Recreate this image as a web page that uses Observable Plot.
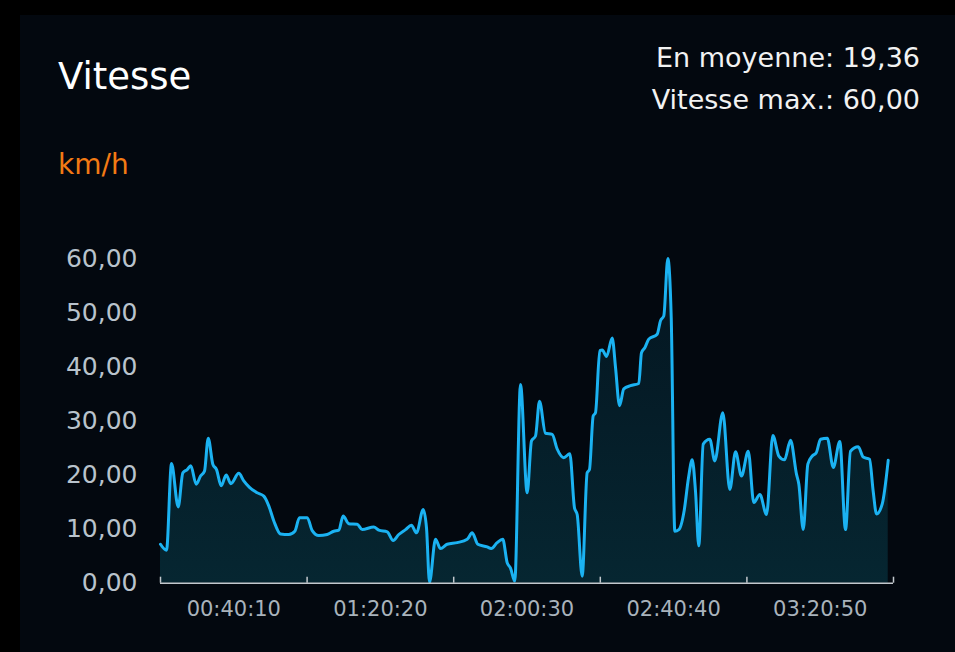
<!DOCTYPE html>
<html>
<head>
<meta charset="utf-8">
<script src="https://cdn.jsdelivr.net/npm/d3@7"></script>
<script src="https://cdn.jsdelivr.net/npm/@observablehq/plot@0.6"></script>
<style>
  html, body { margin: 0; padding: 0; background: #000; width: 955px; height: 652px; overflow: hidden; }
  body { position: relative; font-family: "DejaVu Sans", sans-serif; }
  #panel { position: absolute; left: 20px; top: 15px; right: 0; bottom: 0; background: #03080f; }
  .t { position: absolute; line-height: 1; white-space: nowrap; }
  #title { left: 58px; top: 57.7px; font-size: 37px; color: #ffffff; }
  #avg { right: 35px; top: 44.2px; font-size: 27px; color: #f2f2f2; }
  #max { right: 35px; top: 85.5px; font-size: 27px; color: #f2f2f2; }
  #unit { left: 58px; top: 151px; font-size: 28px; color: #f27a14; }
  #chart { position: absolute; left: 0; top: 220px; }
</style>
</head>
<body>
<div id="panel"></div>
<div class="t" id="title">Vitesse</div>
<div class="t" id="avg">En moyenne: 19,36</div>
<div class="t" id="max">Vitesse max.: 60,00</div>
<div class="t" id="unit">km/h</div>
<div id="chart"></div>
<script>
// elapsed time (seconds) and speed (km/h)
const timeSec = [0, 99, 181, 291, 367, 439, 498, 587, 658, 723, 784, 860, 921, 998, 1080, 1156, 1287, 1369, 1463, 1590, 1698, 1780, 1863, 1973, 2109, 2208, 2285, 2412, 2494, 2602, 2740, 2849, 2931, 3003, 3095, 3234, 3316, 3506, 3589, 3727, 3825, 3917, 4028, 4126, 4208, 4319, 4373, 4422, 4521, 4603, 4713, 4878, 5042, 5124, 5216, 5371, 5436, 5535, 5627, 5699, 5754, 5824, 5918, 6028, 6099, 6165, 6230, 6329, 6439, 6521, 6630, 6729, 6806, 6850, 6932, 7014, 7052, 7113, 7151, 7222, 7262, 7332, 7426, 7480, 7546, 7616, 7726, 7863, 7907, 7962, 8027, 8165, 8220, 8274, 8340, 8396, 8455, 8521, 8610, 8680, 8741, 8795, 8849, 8922, 9030, 9112, 9244, 9359, 9453, 9551, 9662, 9754, 9853, 9963, 10066, 10165, 10258, 10357, 10456, 10494, 10566, 10642, 10715, 10780, 10851, 10961, 11060, 11167, 11261, 11343, 11470, 11552, 11656, 11716, 11771, 11864, 11963];
const speedKmh = [7.2, 6.1, 22.1, 14.1, 20.4, 21.0, 21.7, 18.3, 19.8, 20.7, 26.8, 22.0, 21.0, 18.0, 20.0, 18.4, 20.3, 18.9, 17.7, 16.7, 16.1, 14.3, 11.5, 9.1, 9.0, 9.6, 12.1, 12.1, 9.7, 8.8, 9.0, 9.6, 9.8, 12.4, 11.0, 10.9, 9.9, 10.4, 9.8, 9.5, 7.9, 9.0, 9.9, 10.7, 9.3, 13.6, 10.2, 0.2, 8.1, 6.4, 7.2, 7.5, 8.1, 9.3, 7.2, 6.7, 6.4, 7.5, 8.1, 3.8, 2.8, 0.4, 36.7, 16.7, 26.3, 27.2, 33.6, 27.7, 27.5, 24.8, 23.2, 23.9, 13.9, 12.7, 1.3, 20.4, 21.0, 30.9, 31.5, 43.0, 43.1, 41.9, 45.3, 39.9, 32.8, 35.9, 36.5, 36.9, 42.6, 43.5, 45.1, 46.0, 48.5, 49.4, 60.0, 49.1, 9.6, 9.9, 13.5, 19.5, 22.8, 17.0, 6.9, 25.7, 26.6, 22.6, 31.5, 17.3, 24.3, 19.8, 24.4, 14.9, 16.4, 12.7, 27.3, 23.5, 22.8, 26.4, 20.1, 18.3, 9.9, 22.0, 23.5, 24.1, 26.6, 26.8, 21.4, 26.2, 9.9, 24.4, 25.2, 23.3, 22.9, 17.0, 12.8, 14.6, 22.7];

const yTicks = [0, 10, 20, 30, 40, 50, 60];
const xBoundsSec = [0, 2410, 4820, 7230, 9640, 12050];
const xTickLabels = ["00:40:10", "01:20:20", "02:00:30", "02:40:40", "03:20:50"];

const data = timeSec.map((t, i) => ({t, v: speedKmh[i]}));
const xMid = xBoundsSec.slice(1).map((b, i) => (b + xBoundsSec[i]) / 2);
const labelMap = new Map(xMid.map((m, i) => [m, xTickLabels[i]]));
const fmt = d => d.toFixed(2).replace(".", ",");

const chart = Plot.plot({
  width: 955,
  height: 432,
  marginLeft: 160,
  marginRight: 62,
  marginTop: 38,
  marginBottom: 69.3,
  style: {background: "transparent", fontFamily: "DejaVu Sans", overflow: "visible"},
  x: {domain: [0, 12050]},
  y: {domain: [0, 60]},
  marks: [
    Plot.areaY(data, {x: "t", y: "v", curve: "monotone-x", fill: "url(#speedFill)"}),
    Plot.lineY(data, {x: "t", y: "v", curve: "monotone-x", stroke: "#1bb2f2", strokeWidth: 3}),
    Plot.ruleY([0], {stroke: "#c3c8cd", strokeWidth: 1.5}),
    Plot.axisX({ticks: xBoundsSec, tickSize: -6, stroke: "#c3c8cd", strokeWidth: 1.5, fill: "none", label: null}),
    Plot.axisX({ticks: xMid, tickSize: 0, tickPadding: 17.5, tickFormat: d => labelMap.get(d), fill: "#a9b3bc", fontSize: 21, label: null}),
    Plot.axisY({ticks: yTicks, tickSize: 0, tickPadding: 23, tickFormat: fmt, fill: "#b9c3cc", fontSize: 25, label: null})
  ]
});

const ns = "http://www.w3.org/2000/svg";
const defs = document.createElementNS(ns, "defs");
const grad = document.createElementNS(ns, "linearGradient");
grad.setAttribute("id", "speedFill");
grad.setAttribute("x1", "0"); grad.setAttribute("y1", "0");
grad.setAttribute("x2", "0"); grad.setAttribute("y2", "1");
[["0%", "#041520"], ["100%", "#062631"]].forEach(([o, c]) => {
  const s = document.createElementNS(ns, "stop");
  s.setAttribute("offset", o); s.setAttribute("stop-color", c);
  grad.appendChild(s);
});
defs.appendChild(grad);
chart.insertBefore(defs, chart.firstChild);
document.getElementById("chart").appendChild(chart);
</script>
</body>
</html>
